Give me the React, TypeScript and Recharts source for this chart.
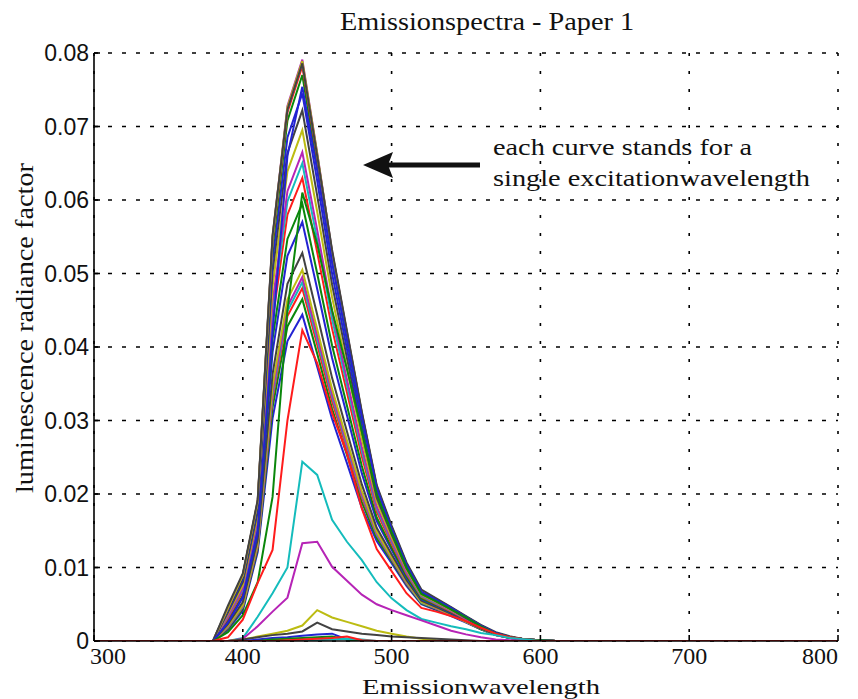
import { LineChart, Line, XAxis, YAxis, CartesianGrid } from "recharts";

// emission wavelength (nm) at which the curves were sampled
const wavelengths = [
  300, 380, 390, 400, 410, 420, 430, 440, 450, 460, 470, 480, 490, 500, 510,
  520, 530, 540, 550, 560, 570, 580, 590, 600, 610, 800,
];

const xTicks = [300, 400, 500, 600, 700, 800];
const yTicks = [0, 0.01, 0.02, 0.03, 0.04, 0.05, 0.06, 0.07, 0.08];

// one array per excitation wavelength (same order as the colour cycle)
const curve01 = [0, 0, 0.0015, 0.0041, 0.0121, 0.0303, 0.0408, 0.0444, 0.0373, 0.0302, 0.0242, 0.0181, 0.0136, 0.0106, 0.0075, 0.005, 0.0042, 0.0034, 0.0025, 0.0016, 0.0008, 0.0004, 0.0002, 0.0001, 0, 0];
const curve02 = [0, 0, 0.0017, 0.0044, 0.0125, 0.0318, 0.0428, 0.0465, 0.0391, 0.0316, 0.0253, 0.0189, 0.014, 0.0109, 0.0077, 0.0051, 0.0043, 0.0035, 0.0026, 0.0016, 0.0008, 0.0004, 0.0002, 0.0001, 0, 0];
const curve03 = [0, 0, 0.0018, 0.0046, 0.0128, 0.0329, 0.0442, 0.048, 0.0403, 0.0326, 0.0261, 0.0195, 0.0144, 0.0111, 0.0078, 0.0052, 0.0044, 0.0035, 0.0026, 0.0017, 0.0008, 0.0004, 0.0002, 0.0001, 0, 0];
const curve04 = [0, 0, 0.0019, 0.0047, 0.013, 0.0334, 0.0449, 0.0488, 0.041, 0.0332, 0.0265, 0.0198, 0.0145, 0.0112, 0.0079, 0.0052, 0.0044, 0.0036, 0.0026, 0.0017, 0.0008, 0.0004, 0.0002, 0.0001, 0, 0];
const curve05 = [0, 0, 0.002, 0.0048, 0.0131, 0.0339, 0.0455, 0.0495, 0.0416, 0.0336, 0.0268, 0.02, 0.0147, 0.0113, 0.008, 0.0053, 0.0044, 0.0036, 0.0026, 0.0017, 0.0008, 0.0004, 0.0002, 0.0001, 0, 0];
const curve06 = [0, 0, 0.0021, 0.0049, 0.0133, 0.0347, 0.0465, 0.0505, 0.0424, 0.0343, 0.0273, 0.0204, 0.0149, 0.0114, 0.0081, 0.0053, 0.0045, 0.0036, 0.0026, 0.0017, 0.0009, 0.0004, 0.0002, 0.0001, 0, 0];
const curve07 = [0, 0, 0.0023, 0.0053, 0.0138, 0.0363, 0.0486, 0.0528, 0.0444, 0.0358, 0.0285, 0.0213, 0.0154, 0.0118, 0.0083, 0.0055, 0.0046, 0.0037, 0.0027, 0.0017, 0.0009, 0.0004, 0.0002, 0.0001, 0, 0];
const curve08 = [0, 0, 0.0026, 0.0059, 0.0146, 0.0393, 0.0524, 0.057, 0.0479, 0.0385, 0.0307, 0.0228, 0.0163, 0.0124, 0.0086, 0.0057, 0.0048, 0.0038, 0.0028, 0.0018, 0.0009, 0.0004, 0.0002, 0.0001, 0, 0];
const curve09 = [0, 0, 0.0028, 0.0062, 0.0151, 0.0411, 0.0547, 0.0595, 0.05, 0.0402, 0.032, 0.0238, 0.0168, 0.0127, 0.0088, 0.0058, 0.0049, 0.0039, 0.0029, 0.0018, 0.0009, 0.0004, 0.0002, 0.0001, 0, 0];
const curve10 = [0, 0, 0.0031, 0.0067, 0.0158, 0.0436, 0.058, 0.063, 0.0529, 0.0425, 0.0338, 0.0251, 0.0176, 0.0132, 0.0091, 0.006, 0.005, 0.004, 0.0029, 0.0019, 0.001, 0.0005, 0.0002, 0.0001, 0, 0];
const curve11 = [0, 0, 0.0033, 0.007, 0.0162, 0.045, 0.0598, 0.065, 0.0546, 0.0438, 0.0348, 0.0258, 0.018, 0.0135, 0.0093, 0.0061, 0.0051, 0.0041, 0.003, 0.0019, 0.001, 0.0005, 0.0002, 0.0001, 0, 0];
const curve12 = [0, 0, 0.0034, 0.0072, 0.0165, 0.0461, 0.0612, 0.0665, 0.0559, 0.0448, 0.0356, 0.0264, 0.0183, 0.0137, 0.0094, 0.0062, 0.0052, 0.0041, 0.003, 0.0019, 0.001, 0.0005, 0.0002, 0.0001, 0, 0];
const curve13 = [0, 0, 0.0037, 0.0076, 0.0171, 0.0482, 0.0639, 0.0695, 0.0584, 0.0468, 0.0371, 0.0275, 0.019, 0.0141, 0.0097, 0.0063, 0.0053, 0.0042, 0.0031, 0.002, 0.001, 0.0005, 0.0002, 0.0001, 0, 0];
const curve14 = [0, 0, 0.0039, 0.008, 0.0176, 0.0502, 0.0664, 0.0722, 0.0606, 0.0485, 0.0385, 0.0285, 0.0195, 0.0145, 0.0099, 0.0065, 0.0054, 0.0043, 0.0031, 0.002, 0.001, 0.0005, 0.0002, 0.0001, 0, 0];
const curve15 = [0, 0, 0.0041, 0.0084, 0.0181, 0.0518, 0.0685, 0.0745, 0.0626, 0.05, 0.0397, 0.0293, 0.02, 0.0149, 0.0101, 0.0066, 0.0055, 0.0044, 0.0032, 0.002, 0.0011, 0.0005, 0.0002, 0.0001, 0, 0];
const curve16 = [0, 0, 0.0043, 0.0087, 0.0186, 0.0536, 0.0708, 0.077, 0.0647, 0.0517, 0.041, 0.0303, 0.0206, 0.0152, 0.0103, 0.0067, 0.0056, 0.0044, 0.0033, 0.0021, 0.0011, 0.0005, 0.0002, 0.0001, 0, 0];
const curve17 = [0, 0, 0.0044, 0.0089, 0.0188, 0.0544, 0.0719, 0.0782, 0.0657, 0.0525, 0.0416, 0.0307, 0.0208, 0.0154, 0.0104, 0.0068, 0.0057, 0.0045, 0.0033, 0.0021, 0.0011, 0.0005, 0.0002, 0.0001, 0, 0];
const curve18 = [0, 0, 0.0045, 0.009, 0.0189, 0.0548, 0.0724, 0.0787, 0.0661, 0.0528, 0.0418, 0.0309, 0.0209, 0.0155, 0.0105, 0.0068, 0.0057, 0.0045, 0.0033, 0.0021, 0.0011, 0.0005, 0.0002, 0.0001, 0, 0];
const curve19 = [0, 0, 0.0045, 0.009, 0.019, 0.055, 0.0728, 0.0791, 0.0664, 0.053, 0.042, 0.031, 0.021, 0.0155, 0.0105, 0.0068, 0.0057, 0.0045, 0.0033, 0.0021, 0.0011, 0.0005, 0.0002, 0.0001, 0, 0];
const curve20 = [0, 0, 0.0045, 0.009, 0.019, 0.0549, 0.0726, 0.0789, 0.0663, 0.0529, 0.0419, 0.031, 0.021, 0.0155, 0.0105, 0.0068, 0.0057, 0.0045, 0.0033, 0.0021, 0.0011, 0.0005, 0.0002, 0.0001, 0, 0];
const curve21 = [0, 0, 0.0048, 0.0092, 0.0192, 0.0552, 0.0723, 0.0786, 0.066, 0.0532, 0.0422, 0.0312, 0.0212, 0.0157, 0.0107, 0.007, 0.0058, 0.0046, 0.0034, 0.0022, 0.0012, 0.0006, 0.0002, 0.0001, 0, 0];
const curve22 = [0, 0, 0.0025, 0.006, 0.015, 0.042, 0.066, 0.0754, 0.064, 0.0515, 0.041, 0.0305, 0.0208, 0.0153, 0.0104, 0.0067, 0.0056, 0.0045, 0.0033, 0.0021, 0.0011, 0.0005, 0.0002, 0.0001, 0, 0];
const curve23 = [0, 0, 0.0012, 0.0035, 0.008, 0.0196, 0.045, 0.061, 0.054, 0.045, 0.037, 0.0285, 0.02, 0.0148, 0.01, 0.0064, 0.0054, 0.0043, 0.0032, 0.002, 0.001, 0.0005, 0.0002, 0.0001, 0, 0];
const curve24 = [0, 0, 0.0005, 0.0029, 0.0079, 0.0124, 0.03, 0.0423, 0.0378, 0.031, 0.0255, 0.018, 0.0125, 0.0095, 0.0065, 0.0045, 0.004, 0.0034, 0.0027, 0.0018, 0.001, 0.0005, 0.0002, 0, 0, 0];
const curve25 = [0, 0, 0, 0.0004, 0.0033, 0.0065, 0.01, 0.0244, 0.0226, 0.0165, 0.0135, 0.011, 0.008, 0.0058, 0.0042, 0.003, 0.0025, 0.002, 0.0016, 0.0011, 0.0008, 0.0004, 0.0002, 0, 0, 0];
const curve26 = [0, 0, 0, 0.0003, 0.002, 0.004, 0.0059, 0.0133, 0.0135, 0.0101, 0.0082, 0.0063, 0.005, 0.0042, 0.0035, 0.0028, 0.0021, 0.0014, 0.0009, 0.0005, 0.0002, 0.0001, 0, 0, 0, 0];
const curve27 = [0, 0, 0, 0.0002, 0.0006, 0.001, 0.0014, 0.0021, 0.0042, 0.0032, 0.0026, 0.002, 0.0014, 0.001, 0.0006, 0.0003, 0.0001, 0, 0, 0, 0, 0, 0, 0, 0, 0];
const curve28 = [0, 0, 0, 0.0002, 0.0005, 0.0008, 0.001, 0.0013, 0.0025, 0.0016, 0.0013, 0.001, 0.0008, 0.0006, 0.0005, 0.0004, 0.0003, 0.0002, 0.0001, 0, 0, 0, 0, 0, 0, 0];
const curve29 = [0, 0, 0, 0, 0.0002, 0.0004, 0.0005, 0.0007, 0.0009, 0.001, 0.0002, 0, 0, 0, 0, 0, 0, 0, 0, 0, 0, 0, 0, 0, 0, 0];
const curve30 = [0, 0, 0, 0, 0, 0.0002, 0.0003, 0.0004, 0.0005, 0.0006, 0.0002, 0, 0, 0, 0, 0, 0, 0, 0, 0, 0, 0, 0, 0, 0, 0];
const curve31 = [0, 0, 0, 0, 0, 0, 0, 0, 0.0001, 0.0002, 0.0003, 0.0002, 0, 0, 0, 0, 0, 0, 0, 0, 0, 0, 0, 0, 0, 0];
const curve32 = [0, 0, 0, 0, 0, 0, 0.0001, 0.0002, 0.0003, 0.0004, 0.0006, 0.0001, 0, 0, 0, 0, 0, 0, 0, 0, 0, 0, 0, 0, 0, 0];

const B = "#2323d2";
const G = "#0b870b";
const R = "#ff1c1c";
const C = "#14bcbc";
const M = "#b624b6";
const Y = "#bcbc12";
const K = "#424242";

const curves = [
  curve01, curve02, curve03, curve04, curve05, curve06, curve07, curve08,
  curve09, curve10, curve11, curve12, curve13, curve14, curve15, curve16,
  curve17, curve18, curve19, curve20, curve21, curve22, curve23, curve24,
  curve25, curve26, curve27, curve28, curve29, curve30, curve31, curve32,
];
const colours = [
  B, G, R, C, M, Y, K, B, G, R, C, M, Y, K, B, G, R, C, M, Y, K, B, G, R,
  C, M, Y, K, B, G, C, R,
];

const data = wavelengths.map((w, i) => {
  const row: Record<string, number> = { w };
  curves.forEach((c, k) => {
    row["s" + k] = c[i];
  });
  return row;
});

const serif = "Liberation Serif";
const sans = "Liberation Sans";

const XTick = (props: any) => {
  const { x, y, payload } = props;
  // end labels sit a little inside the box, like the original
  const shift = payload.value === 300 ? 14 : payload.value === 800 ? -18 : 0;
  return (
    <text x={x + shift} y={y} dy={21} textAnchor="middle" fontFamily={serif} fontSize={24} fill="#111">
      {payload.value}
    </text>
  );
};

const YTick = (props: any) => {
  const { x, y, payload } = props;
  const v = payload.value;
  return (
    <text x={x} y={y} dy={8} textAnchor="end" fontFamily={sans} fontSize={23} fill="#111">
      {v === 0 ? "0" : v.toFixed(2)}
    </text>
  );
};

const NoTick = () => <g />;

export default function App() {
  return (
    <div style={{ position: "absolute", left: 0, top: 0, width: 858, height: 699, background: "#fff" }}>
      <LineChart
        width={858}
        height={699}
        data={data}
        margin={{ top: 53, right: 20, left: 34, bottom: 28 }}
      >
        <CartesianGrid
          xAxisId="bottom"
          yAxisId="left"
          horizontal={true}
          vertical={false}
          stroke="#000"
          strokeWidth={1.6}
          strokeDasharray="4 10"
        />
        <CartesianGrid
          xAxisId="bottom"
          yAxisId="left"
          horizontal={false}
          vertical={true}
          stroke="#000"
          strokeWidth={1.6}
          strokeDasharray="3 15"
        />
        <XAxis
          xAxisId="bottom"
          dataKey="w"
          type="number"
          domain={[300, 800]}
          ticks={xTicks}
          height={30}
          tickSize={-6}
          tickMargin={8}
          tick={XTick}
          axisLine={{ stroke: "#000", strokeWidth: 1.6 }}
          tickLine={{ stroke: "#000", strokeWidth: 1.6 }}
          allowDataOverflow
        />
        <XAxis
          xAxisId="top"
          orientation="top"
          dataKey="w"
          type="number"
          domain={[300, 800]}
          ticks={xTicks}
          height={0}
          tickSize={-6}
          tick={NoTick}
          axisLine={{ stroke: "#000", strokeWidth: 1.6 }}
          tickLine={{ stroke: "#000", strokeWidth: 1.6 }}
        />
        <YAxis
          yAxisId="left"
          type="number"
          domain={[0, 0.08]}
          ticks={yTicks}
          width={60}
          tickSize={-6}
          tickMargin={11}
          tick={YTick}
          axisLine={{ stroke: "#000", strokeWidth: 1.6 }}
          tickLine={{ stroke: "#000", strokeWidth: 1.6 }}
          allowDataOverflow
        />
        <YAxis
          yAxisId="right"
          orientation="right"
          type="number"
          domain={[0, 0.08]}
          ticks={yTicks}
          width={0}
          tickSize={-6}
          tick={NoTick}
          axisLine={{ stroke: "#000", strokeWidth: 1.6 }}
          tickLine={{ stroke: "#000", strokeWidth: 1.6 }}
        />
        {curves.map((_, k) => (
          <Line
            key={k}
            xAxisId="bottom"
            yAxisId="left"
            type="linear"
            dataKey={"s" + k}
            stroke={colours[k]}
            strokeWidth={2}
            dot={false}
            activeDot={false}
            isAnimationActive={false}
          />
        ))}
      </LineChart>
      <svg
        width={858}
        height={699}
        style={{ position: "absolute", left: 0, top: 0, pointerEvents: "none" }}
      >
        <text x={487} y={30} textAnchor="middle" fontFamily={serif} fontSize={26} fill="#111" textLength={294} lengthAdjust="spacingAndGlyphs">
          Emissionspectra - Paper 1
        </text>
        <text
          transform="translate(33,328) rotate(-90)"
          textAnchor="middle"
          fontFamily={serif}
          fontSize={26}
          fill="#111"
          textLength={330}
          lengthAdjust="spacingAndGlyphs"
        >
          luminescence radiance factor
        </text>
        <text x={481} y={694} textAnchor="middle" fontFamily={serif} fontSize={22} fill="#111" textLength={238} lengthAdjust="spacingAndGlyphs">
          Emissionwavelength
        </text>
        <line x1={386} y1={165} x2={480} y2={165} stroke="#111" strokeWidth={5} />
        <polygon points="363,165 393,152 388,165 393,178" fill="#111" />
        <text x={493} y={155} fontFamily={serif} fontSize={24} fill="#111" textLength={259} lengthAdjust="spacingAndGlyphs">
          each curve stands for a
        </text>
        <text x={493} y={186} fontFamily={serif} fontSize={24} fill="#111" textLength={317} lengthAdjust="spacingAndGlyphs">
          single excitationwavelength
        </text>
      </svg>
    </div>
  );
}
